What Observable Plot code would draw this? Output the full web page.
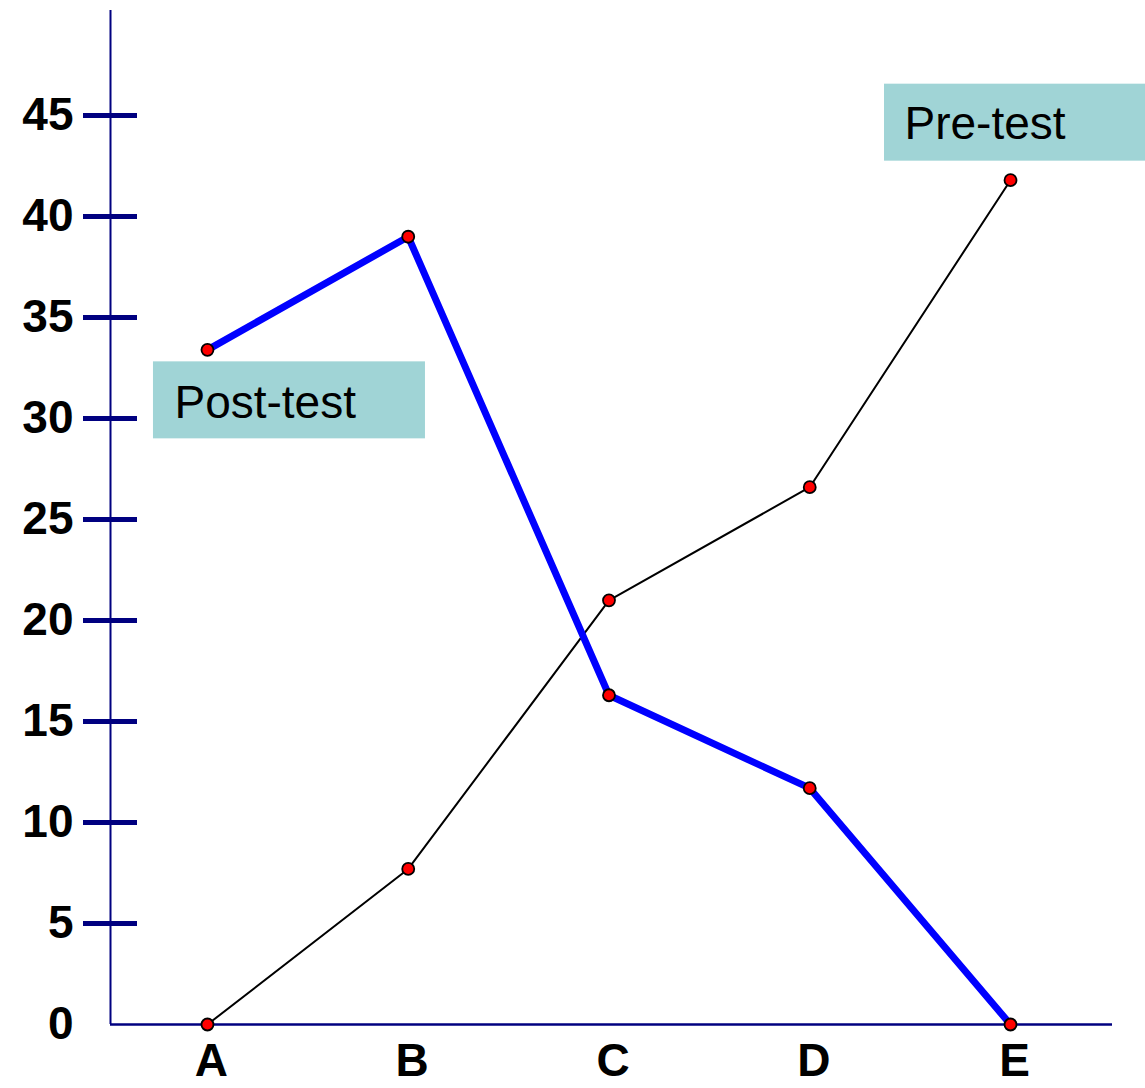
<!DOCTYPE html>
<html>
<head>
<meta charset="utf-8">
<script src="https://cdn.jsdelivr.net/npm/d3@7"></script>
<script src="https://cdn.jsdelivr.net/npm/@observablehq/plot@0.6"></script>
<style>
  html, body { margin: 0; padding: 0; background: #fff; }
  svg { display: block; }
</style>
</head>
<body>
<div id="chart"></div>
<script>
const categories = ["A", "B", "C", "D", "E"];
const preTest = [0, 7.7, 21.0, 26.6, 41.8];
const postTest = [33.4, 39.0, 16.3, 11.7, 0];
const yTicks = [0, 5, 10, 15, 20, 25, 30, 35, 40, 45];
const seriesLabels = ["Pre-test", "Post-test"];

const pre = categories.map((c, i) => ({i, c, v: preTest[i]}));
const post = categories.map((c, i) => ({i, c, v: postTest[i]}));

const xDomain = [-0.483, 4.508];
const yDomain = [0, 50.2];
const navy = "#000080";
const font = "'Liberation Sans', Arial, Helvetica, sans-serif";
const boxFill = "#a0d4d6";

const chart = Plot.plot({
  width: 1145,
  height: 1088,
  marginLeft: 110,
  marginRight: 33,
  marginTop: 10,
  marginBottom: 64,
  style: {fontFamily: font, background: "#fff"},
  x: {type: "linear", domain: xDomain, axis: null},
  y: {type: "linear", domain: yDomain, axis: null},
  marks: [
    // axes
    Plot.ruleX([xDomain[0]], {y1: yDomain[0], y2: yDomain[1], stroke: navy, strokeWidth: 2}),
    Plot.ruleY([0], {x1: xDomain[0], x2: xDomain[1], stroke: navy, strokeWidth: 2.5}),
    Plot.ruleY(yTicks.filter(d => d > 0), {x1: xDomain[0], x2: xDomain[0], insetLeft: -27, insetRight: -27, stroke: navy, strokeWidth: 5}),
    Plot.text(yTicks, {x: xDomain[0], y: d => d, text: d => String(d), dx: -37, textAnchor: "end",
      fontSize: 46, fontWeight: "bold", fill: "#000"}),
    Plot.text(categories.map((c, i) => ({c, i})), {x: "i", y: 0, text: "c", dx: 4, dy: 37,
      fontSize: 46, fontWeight: "bold", fill: "#000"}),
    // label boxes
    Plot.rect([pre[4]], {x1: "i", x2: "i", y1: "v", y2: "v",
      insetLeft: -126, insetRight: -135, insetTop: -96, insetBottom: 19, fill: boxFill}),
    Plot.rect([post[0]], {x1: "i", x2: "i", y1: "v", y2: "v",
      insetLeft: -54, insetRight: -218, insetTop: 12, insetBottom: -89, fill: boxFill}),
    Plot.text([pre[4]], {x: "i", y: "v", text: () => seriesLabels[0], dx: -106, dy: -56,
      textAnchor: "start", fontSize: 46, fill: "#000"}),
    Plot.text([post[0]], {x: "i", y: "v", text: () => seriesLabels[1], dx: -33, dy: 53,
      textAnchor: "start", fontSize: 46, fill: "#000"}),
    // series
    Plot.line(pre, {x: "i", y: "v", stroke: "#000", strokeWidth: 2}),
    Plot.line(post, {x: "i", y: "v", stroke: "#0000ff", strokeWidth: 7, strokeLinejoin: "miter", strokeLinecap: "butt"}),
    Plot.dot(pre, {x: "i", y: "v", r: 6, fill: "#ff0000", stroke: "#000", strokeWidth: 1.8}),
    Plot.dot(post, {x: "i", y: "v", r: 6, fill: "#ff0000", stroke: "#000", strokeWidth: 1.8})
  ]
});

document.getElementById("chart").appendChild(chart);
</script>
</body>
</html>
